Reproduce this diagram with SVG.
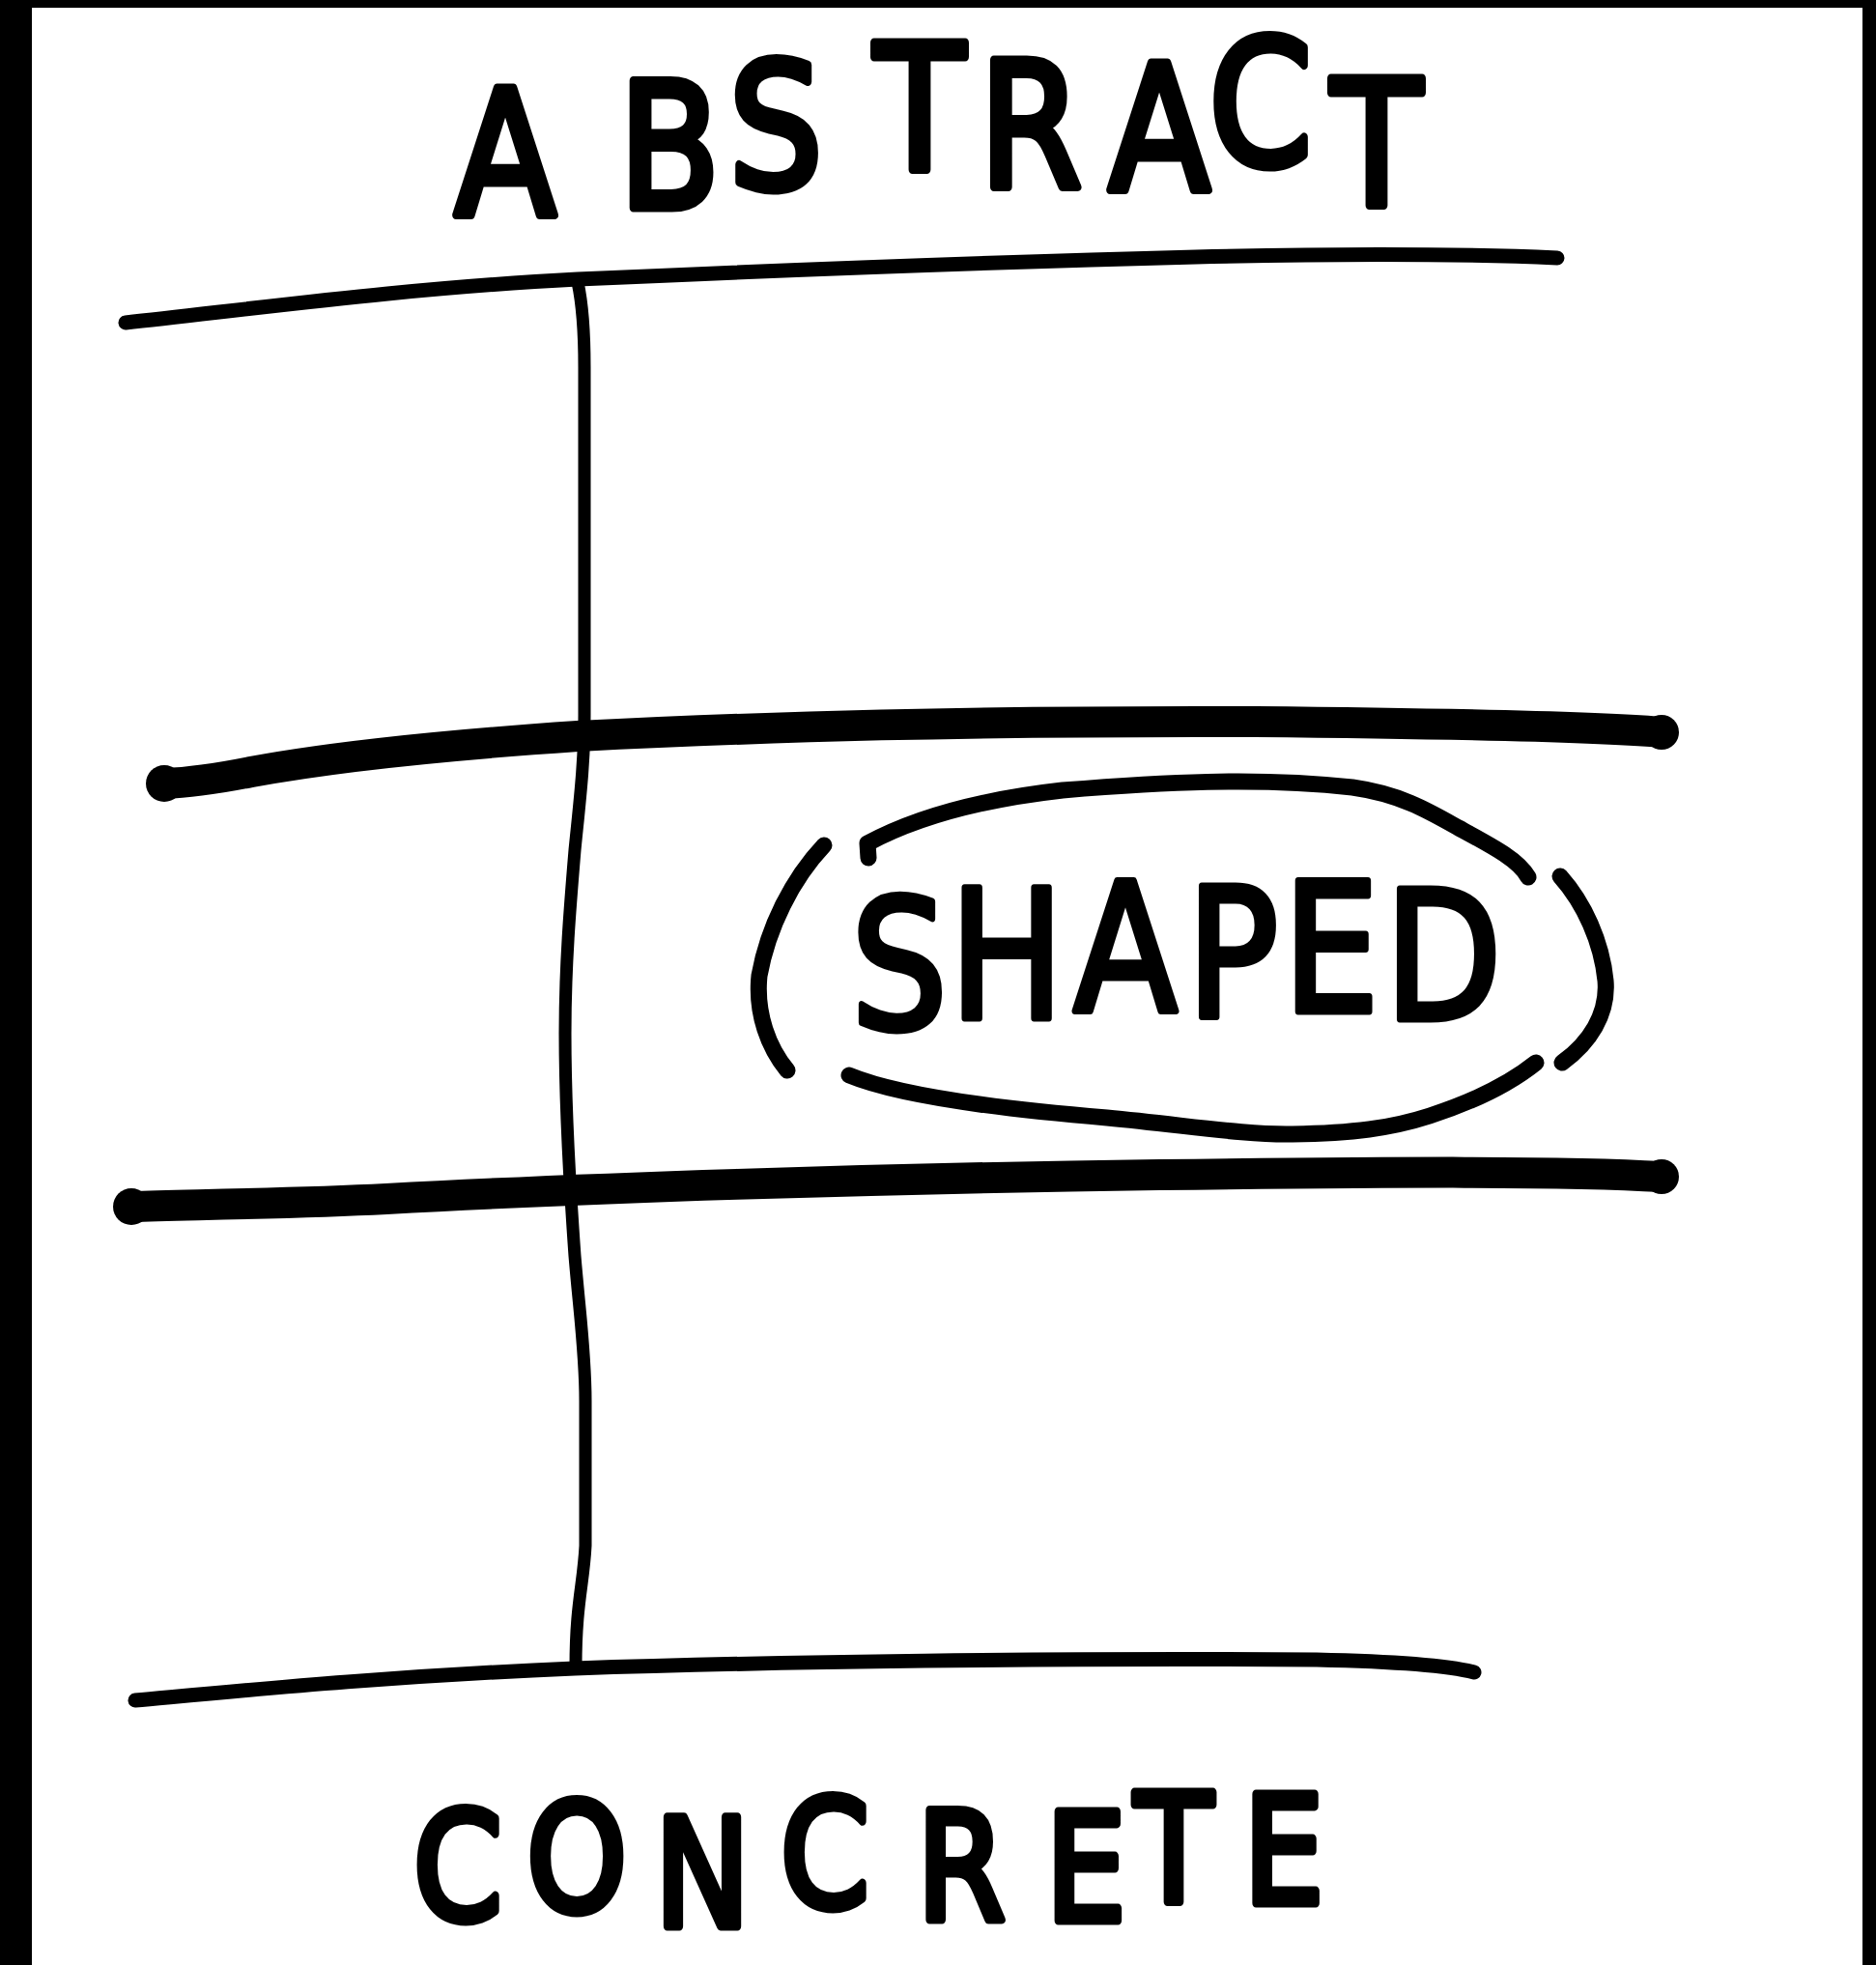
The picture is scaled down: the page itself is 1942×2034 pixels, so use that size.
<svg xmlns="http://www.w3.org/2000/svg" width="1942" height="2034" viewBox="0 0 1942 2034">
<style>
.ink{fill:none;stroke:#000;stroke-linecap:round;stroke-linejoin:round}
.thin{stroke-width:15}
.thick{stroke-width:32}
.arc{stroke-width:17}
.vert{stroke-width:13}
.blob{fill:#000}
.hand{font-family:"DejaVu Sans","Liberation Sans",sans-serif;fill:#000;stroke:#000;stroke-width:9;stroke-linejoin:round;text-anchor:middle}
</style>
<g id="frame">
<rect x="0" y="0" width="1942" height="2034" fill="#000"/>
<rect x="33" y="8" width="1895" height="2026" fill="#fff"/>
</g>
<g id="connectors">
<path class="ink thin" d="M130,334 C260,320 420,298 598,289 C800,280 1000,272 1238,266 C1400,262 1520,263 1612,267"/>
<path class="ink thick" d="M170,811 C200,810 225,806 260,799 C330,786 450,772 598,762 C800,752 1000,746 1300,747 C1500,749 1650,752 1720,758"/>
<circle class="blob" cx="170" cy="811" r="19"/>
<circle class="blob" cx="1720" cy="758" r="18"/>
<path class="ink thick" d="M136,1249 C200,1247 300,1246 400,1241 C600,1230 900,1220 1200,1216 C1450,1213 1620,1212 1720,1218"/>
<circle class="blob" cx="136" cy="1249" r="19"/>
<circle class="blob" cx="1720" cy="1218" r="18"/>
<path class="ink thin" d="M140,1760 C250,1750 400,1735 595,1727 C800,1720 1100,1716 1363,1718 C1450,1720 1500,1724 1526,1731"/>
<path class="ink vert" d="M598,292 C604,320 605,350 605,380 L605,740 C605,790 600,830 595,880 C590,940 585,1000 585,1070 C585,1150 590,1230 595,1300 C600,1360 606,1400 606,1450 L606,1600 C604,1640 596,1660 596,1725"/>
</g>
<g id="node-abstract">
<text class="hand" font-size="180" transform="scale(0.85 1)" x="615.3 815.3 944.7 1120 1255.3 1411.8 1535.3 1676.5" y="223 215 194 176 194 197 170 213">ABSTRACT</text>
</g>
<g id="node-shaped">
<path class="ink arc" d="M853,875 C820,910 795,960 786,1010 C782,1050 796,1085 815,1108"/>
<path class="ink arc" d="M899,888 L898,873 C950,845 1020,827 1100,818 C1200,810 1300,804 1400,815 C1450,822 1480,840 1510,857 C1545,876 1572,890 1582,908"/>
<path class="ink arc" d="M1615,907 C1640,935 1658,975 1662,1015 C1665,1050 1645,1080 1617,1100"/>
<path class="ink arc" d="M879,1113 C920,1130 1000,1145 1146,1157 C1230,1165 1290,1175 1338,1174 C1400,1173 1440,1168 1480,1155 C1520,1142 1560,1124 1590,1100"/>
<text class="hand" font-size="185" transform="scale(0.85 1)" x="1095.3 1225.9 1370.6 1501.2 1621.2 1757.6" y="1064 1054 1047 1052 1047 1055" style="stroke-width:7">SHAPED</text>
</g>
<g id="node-concrete">
<text class="hand" font-size="155" transform="scale(0.85 1)" x="557.6 702.4 855.3 1004.7 1170.6 1322.4 1429.4 1563.5" y="1987 1978 1994 1974 1987 1988 1968 1970">CONCRETE</text>
</g>
</svg>
